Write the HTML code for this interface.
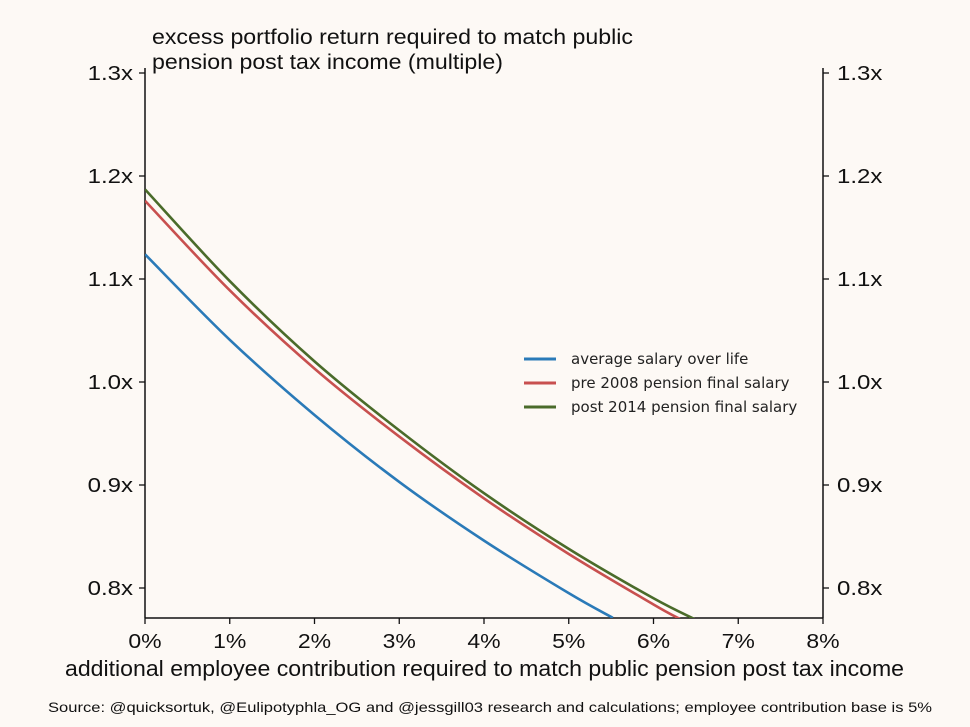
<!DOCTYPE html>
<html><head><meta charset="utf-8"><style>
body{margin:0;background:#fdf9f5;}
svg{display:block;font-family:"Liberation Sans",sans-serif;}
</style></head><body>
<svg id="chart" width="970" height="727">
<rect width="970" height="727" fill="#fdf9f5"/>
<text x="152" y="44" font-size="21" fill="#111" textLength="481" lengthAdjust="spacingAndGlyphs">excess portfolio return required to match public</text>
<text x="152" y="69" font-size="21" fill="#111" textLength="351" lengthAdjust="spacingAndGlyphs">pension post tax income (multiple)</text>
<g id="axes"></g>
<g id="series"></g>
<text x="65" y="676" font-size="22" fill="#111" textLength="839" lengthAdjust="spacingAndGlyphs">additional employee contribution required to match public pension post tax income</text>
<text x="48" y="712" font-size="14" fill="#111" textLength="884" lengthAdjust="spacingAndGlyphs">Source: @quicksortuk, @Eulipotyphla_OG and @jessgill03 research and calculations; employee contribution base is 5%</text>
<g font-family="DejaVu Sans, sans-serif">
<line x1="524" y1="359" x2="556" y2="359" stroke="#2a7ab8" stroke-width="3"/>
<text x="571" y="364" font-size="15" fill="#222">average salary over life</text>
<line x1="524" y1="383" x2="556" y2="383" stroke="#c8504f" stroke-width="3"/>
<text x="571" y="388" font-size="15" fill="#222">pre 2008 pension final salary</text>
<line x1="524" y1="407" x2="556" y2="407" stroke="#4a6b2a" stroke-width="3"/>
<text x="571" y="412" font-size="15" fill="#222">post 2014 pension final salary</text>
</g>
</svg>
<script>
const xTicks=[0,1,2,3,4,5,6,7,8];
const xTickLabels=["0%","1%","2%","3%","4%","5%","6%","7%","8%"];
const yTicks=[0.8,0.9,1.0,1.1,1.2,1.3];
const yTickLabels=["0.8x","0.9x","1.0x","1.1x","1.2x","1.3x"];
const blueX=[0,1,2,3,4,5,5.52];
const blueY=[1.124,1.041,0.968,0.903,0.846,0.795,0.771];
const redX=[0,1,2,3,4,5,6,6.31];
const redY=[1.176,1.089,1.013,0.947,0.887,0.833,0.784,0.770];
const greenX=[0,1,2,3,4,5,6,6.48];
const greenY=[1.187,1.098,1.020,0.953,0.892,0.838,0.790,0.770];
const L=145,R=823,T=73,B=618;
const sx=v=>L+(v/8)*(R-L);
const sy=v=>T+(1.3-v)*1030;
const NS="http://www.w3.org/2000/svg";
const axes=document.getElementById('axes'),ser=document.getElementById('series');
function mk(tag,attrs,parent){const e=document.createElementNS(NS,tag);for(const k in attrs)e.setAttribute(k,attrs[k]);parent.appendChild(e);return e;}
function stretch(el,f){const w=el.getComputedTextLength();el.setAttribute('textLength',w*f);el.setAttribute('lengthAdjust','spacingAndGlyphs');}
let e;
e=mk('line',{x1:L,y1:T-5,x2:L,y2:B,stroke:'#111','stroke-width':1.5},axes);


e=mk('line',{x1:R,y1:T-5,x2:R,y2:B,stroke:'#111','stroke-width':1.5},axes);


e=mk('line',{x1:L,y1:B,x2:R,y2:B,stroke:'#111','stroke-width':1.5},axes);


xTicks.forEach((t,i)=>{
 mk('line',{x1:sx(t),y1:B,x2:sx(t),y2:B+6,stroke:'#111','stroke-width':1.3},axes);
 e=mk('text',{x:sx(t),y:B+30,'font-size':20,'text-anchor':'middle',fill:'#111'},axes);
 e.textContent=xTickLabels[i];
 
 
 stretch(e,1.15);
});
yTicks.forEach((t,i)=>{
 mk('line',{x1:L-6,y1:sy(t),x2:L,y2:sy(t),stroke:'#111','stroke-width':1.3},axes);
 mk('line',{x1:R,y1:sy(t),x2:R+6,y2:sy(t),stroke:'#111','stroke-width':1.3},axes);
 e=mk('text',{x:L-12,y:sy(t)+7,'font-size':20,'text-anchor':'end',fill:'#111'},axes);
 e.textContent=yTickLabels[i];
 
 
 stretch(e,1.2);
 e=mk('text',{x:R+14,y:sy(t)+7,'font-size':20,fill:'#111'},axes);
 e.textContent=yTickLabels[i];
 
 
 stretch(e,1.2);
});
const defs=mk('defs',{},ser);
const cp=mk('clipPath',{id:'pc'},defs);
mk('rect',{x:L,y:T-10,width:R-L,height:B-T+10},cp);
function path(xs,ys){
 const p=xs.map((x,i)=>[sx(x),sy(ys[i])]);
 let d='M'+p[0][0]+','+p[0][1];
 for(let i=0;i<p.length-1;i++){
  const p0=p[Math.max(0,i-1)],p1=p[i],p2=p[i+1],p3=p[Math.min(p.length-1,i+2)];
  const c1=[p1[0]+(p2[0]-p0[0])/6,p1[1]+(p2[1]-p0[1])/6];
  const c2=[p2[0]-(p3[0]-p1[0])/6,p2[1]-(p3[1]-p1[1])/6];
  d+=' C'+c1+' '+c2+' '+p2;
 }
 return d;
}
[[blueX,blueY,'#2a7ab8','series-average-salary'],[redX,redY,'#c8504f','series-pre-2008'],[greenX,greenY,'#4a6b2a','series-post-2014']].forEach(s=>{
 e=mk('path',{d:path(s[0],s[1]),fill:'none',stroke:s[2],'stroke-width':2.6,'clip-path':'url(#pc)'},ser);
 
 
});
</script>
</body></html>
